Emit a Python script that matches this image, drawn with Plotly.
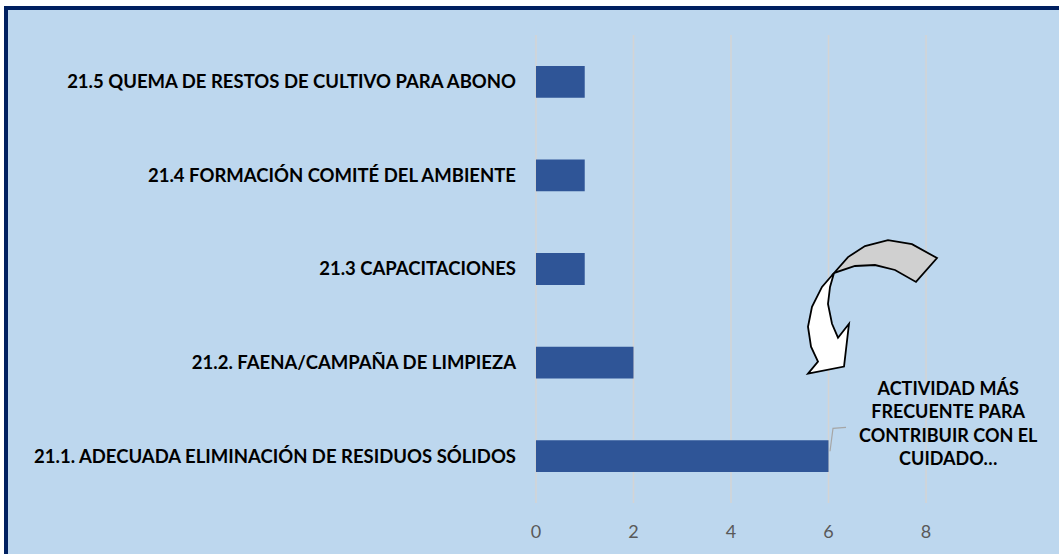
import plotly.graph_objects as go

categories = [
    "21.1. ADECUADA ELIMINACIÓN DE RESIDUOS SÓLIDOS",
    "21.2. FAENA/CAMPAÑA DE LIMPIEZA",
    "21.3 CAPACITACIONES",
    "21.4 FORMACIÓN COMITÉ DEL AMBIENTE",
    "21.5 QUEMA DE RESTOS DE CULTIVO PARA ABONO",
]
values = [6, 2, 1, 1, 1]
tick_vals = [0, 2, 4, 6, 8]
callout_text = "ACTIVIDAD MÁS<br>FRECUENTE PARA<br>CONTRIBUIR CON EL<br>CUIDADO…"

W, H = 1059, 554
L, R, T, B = 535, 927, 35, 505


def fx(px):
    return (px - L) / (R - L)


def fy(py):
    return 1 - (py - T) / (B - T)


def path(pts, close=True):
    s = "M " + " L ".join(f"{fx(x):.4f},{fy(y):.4f}" for x, y in pts)
    return s + (" Z" if close else "")


fig = go.Figure()
fig.add_trace(go.Bar(
    x=values, y=categories, orientation="h",
    marker=dict(color="#2F5597", line=dict(width=0)),
    width=0.34, hoverinfo="x+y",
))

shapes = []
# outer frame
shapes.append(dict(type="rect", xref="paper", yref="paper",
                   x0=fx(6), x1=fx(1070), y0=fy(8), y1=fy(570),
                   fillcolor="#BDD7EE", line=dict(color="#002060", width=4),
                   layer="below"))
# vertical gridlines at the tick values
for tv in tick_vals:
    shapes.append(dict(type="line", xref="x", yref="paper", x0=tv, x1=tv, y0=0, y1=1,
                       line=dict(color="#D4D4D4", width=1.5), layer="below"))
# curved arrow: grey back part
grey_pts = [(834, 274), (848, 258), (865, 247), (888, 241), (912, 245), (937, 259),
            (916, 283), (895, 271), (875, 266), (855, 267)]
shapes.append(dict(type="path", xref="paper", yref="paper", path=path(grey_pts),
                   fillcolor="#D0D0D0", line=dict(color="black", width=1.8)))
white_pts = [(834, 274), (822, 288), (812, 308), (808, 328), (811, 348), (818, 363),
             (808, 375), (844, 368), (849, 325), (838, 339), (832, 325), (828, 305),
             (830, 288)]
shapes.append(dict(type="path", xref="paper", yref="paper", path=path(white_pts),
                   fillcolor="white", line=dict(color="black", width=1.8)))
# leader line
shapes.append(dict(type="path", xref="paper", yref="paper",
                   path=path([(830, 453), (833, 430), (846, 429)], close=False),
                   line=dict(color="#A6A6A6", width=1.2)))

fig.update_layout(
    width=W, height=H,
    margin=dict(l=L, r=W - R, t=T, b=H - B),
    paper_bgcolor="white",
    plot_bgcolor="rgba(0,0,0,0)",
    showlegend=False,
    shapes=shapes,
    xaxis=dict(range=[-0.02, 8.02], tickvals=tick_vals, showgrid=False,
               zeroline=False, showline=False, ticks="",
               tickfont=dict(family="Lato", size=18, color="#595959"),
               ticklabelstandoff=16),
    yaxis=dict(showgrid=False, zeroline=False, showline=False, ticks="",
               tickfont=dict(family="Lato", size=18.5, color="black", weight="bold"),
               ticklabelstandoff=18),
    annotations=[dict(text=callout_text, xref="paper", yref="paper",
                      x=fx(948), y=fy(425), xanchor="center", yanchor="middle",
                      showarrow=False, align="center",
                      font=dict(family="Lato", size=18, color="black", weight="bold"))],
)
fig.write_html("out.html", config={"displayModeBar": False},
               post_script="document.body.style.margin='0';document.body.style.overflow='hidden';")
